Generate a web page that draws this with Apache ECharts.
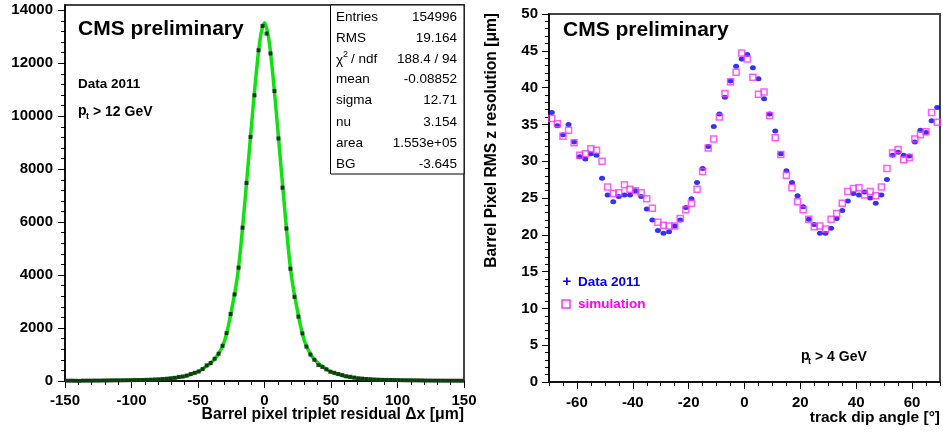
<!DOCTYPE html>
<html><head><meta charset="utf-8">
<script src="https://cdn.jsdelivr.net/npm/echarts@6/dist/echarts.min.js"></script>
<style>html,body{margin:0;padding:0;background:#fff}#c{width:943px;height:433px}</style>
</head><body><div id="c"></div>
<script>
// ---------- Left panel: residual histogram ----------
const residualBins = [
  -148.5,-145.5,-142.5,-139.5,-136.5,-133.5,-130.5,-127.5,-124.5,-121.5,
  -118.5,-115.5,-112.5,-109.5,-106.5,-103.5,-100.5,-97.5,-94.5,-91.5,
  -88.5,-85.5,-82.5,-79.5,-76.5,-73.5,-70.5,-67.5,-64.5,-61.5,
  -58.5,-55.5,-52.5,-49.5,-46.5,-43.5,-40.5,-37.5,-34.5,-31.5,
  -28.5,-25.5,-22.5,-19.5,-16.5,-13.5,-10.5,-7.5,-4.5,-1.5,
  1.5,4.5,7.5,10.5,13.5,16.5,19.5,22.5,25.5,28.5,
  31.5,34.5,37.5,40.5,43.5,46.5,49.5,52.5,55.5,58.5,
  61.5,64.5,67.5,70.5,73.5,76.5,79.5,82.5,85.5,88.5,
  91.5,94.5,97.5,100.5,103.5,106.5,109.5,112.5,115.5,118.5,
  121.5,124.5,127.5,130.5,133.5,136.5,139.5,142.5,145.5,148.5
];
const residualCounts = [
  12,14,10,5,14,16,15,18,17,20,
  19,22,24,23,26,28,30,33,36,40,
  45,48,55,60,72,85,100,120,150,170,
  205,260,310,360,450,590,680,840,1030,1330,
  1810,2530,3270,4280,5790,7480,9220,10790,12490,13410,
  13120,12370,10950,9160,7300,5760,4240,3180,2430,1800,
  1300,1000,800,600,530,440,350,310,265,225,
  180,160,130,100,90,75,65,55,50,45,
  40,38,35,32,30,27,25,24,22,20,
  19,18,17,16,15,14,13,12,12,11
];
const fitX = [-150,-120,-100,-90,-80,-70,-60,-55,-50,-45,-40,-35,-30,-25,-20,-15,-10,-6,-3,0,3,6,10,15,20,25,30,35,40,45,50,55,60,70,80,90,100,120,150];
const fitY = [10,18,32,42,62,100,180,260,350,510,700,990,1520,2620,4080,6620,9530,11720,13000,13530,12980,11700,9500,6600,4060,2600,1510,980,690,500,345,255,180,100,62,42,32,18,10];
const residualTicks = [-150,-100,-50,0,50,100,150];
const countTicks = [0,2000,4000,6000,8000,10000,12000,14000];
const statsLabels = ['Entries','RMS','χ2 / ndf','mean','sigma','nu','area','BG'];
const statsValues = ['154996','19.164','188.4 / 94','-0.08852','12.71','3.154','1.553e+05','-3.645'];

// ---------- Right panel: resolution vs dip angle ----------
const dipAngle = [
  -69,-67,-65,-63,-61,-59,-57,-55,-53,-51,-49,-47,-45,-43,-41,-39,-37,-35,-33,-31,
  -29,-27,-25,-23,-21,-19,-17,-15,-13,-11,-9,-7,-5,-3,-1,
  1,3,5,7,9,11,13,15,17,19,21,23,25,27,29,31,33,35,37,39,
  41,43,45,47,49,51,53,55,57,59,61,63,65,67,69
];
const dataRes = [
  36.6,34.8,33.6,35.0,32.6,30.6,30.3,31.0,30.8,27.7,25.4,24.5,25.2,25.4,25.4,26.0,25.2,23.5,22.0,20.6,
  20.2,20.4,21.2,22.0,23.7,24.9,27.1,29.0,32.0,34.7,36.4,38.7,40.9,42.9,43.9,
  44.5,42.7,41.2,38.5,36.4,34.1,31.0,28.7,27.1,25.3,23.8,22.1,21.4,20.2,20.2,20.9,22.2,23.3,24.6,25.6,
  25.4,25.8,25.0,24.3,25.4,27.5,30.8,31.2,30.8,30.7,32.6,34.2,33.9,35.5,37.3
];
const simRes = [
  35.8,35.1,33.4,34.2,32.5,30.8,31.0,31.7,31.5,30.0,26.5,25.6,25.7,26.8,26.2,26.0,25.7,24.9,23.6,21.7,
  21.3,21.2,21.2,22.2,23.4,24.3,26.2,28.6,31.8,33.0,36.0,39.2,40.8,42.1,44.7,
  43.9,41.4,39.1,39.4,36.2,33.2,30.9,28.1,26.4,24.5,23.4,22.1,21.1,21.2,20.8,22.1,22.9,24.3,25.9,26.3,
  26.4,25.4,25.9,25.3,26.5,29.0,31.1,31.6,30.2,30.5,33.0,33.6,34.0,36.6,35.3
];
const angleTicks = [-60,-40,-20,0,20,40,60];
const resTicks = [0,5,10,15,20,25,30,35,40,45,50];

// ---------- helpers ----------
const F = '"Liberation Sans", Arial, Helvetica, sans-serif';
function steps(a, b, s) { const r = []; for (let v = a; v <= b + 1e-9; v += s) r.push(+v.toFixed(6)); return r; }

function majorAxis(grid, min, max, interval, ticks, margin) {
  return {
    gridIndex: grid, type: 'value', min: min, max: max, interval: interval,
    axisLine: { show: true, onZero: false, lineStyle: { color: '#000', width: 1.5 } },
    axisTick: { show: true, inside: false, length: 7, customValues: ticks, lineStyle: { color: '#000', width: 1 } },
    axisLabel: { show: true, customValues: ticks, margin: margin, fontSize: 15, fontWeight: 'bold', color: '#000', fontFamily: F,
      formatter: function (v) { return String(v); } },
    splitLine: { show: false }
  };
}
function minorAxis(grid, min, max, interval, ticks) {
  return {
    gridIndex: grid, type: 'value', min: min, max: max, interval: interval, offset: 0,
    axisLine: { show: false, onZero: false },
    axisTick: { show: true, inside: false, length: 4, customValues: ticks, lineStyle: { color: '#000', width: 1 } },
    axisLabel: { show: false },
    splitLine: { show: false }
  };
}

const xAxes = [];
const yAxes = [];
const x0 = majorAxis(0, -150, 150, 50, residualTicks, 12); x0.position = 'bottom';
const x0m = minorAxis(0, -150, 150, 10, steps(-150, 150, 10)); x0m.position = 'bottom';
const y0 = majorAxis(0, 0, 14200, 2000, countTicks, 12); y0.position = 'left';
const y0m = minorAxis(0, 0, 14200, 400, steps(0, 14000, 400)); y0m.position = 'left';
const x1 = majorAxis(1, -70, 70, 10, angleTicks, 13); x1.position = 'bottom';
const x1m = minorAxis(1, -70, 70, 5, steps(-70, 70, 5)); x1m.position = 'bottom';
const y1 = majorAxis(1, 0, 50, 5, resTicks, 11); y1.position = 'left';
const y1m = minorAxis(1, 0, 50, 1, steps(0, 50, 1)); y1m.position = 'left';
xAxes.push(x0, x0m, x1, x1m);
yAxes.push(y0, y0m, y1, y1m);

function txt(x, y, s, size, opts) {
  opts = opts || {};
  return {
    type: 'text', x: x, y: y, rotation: opts.rotation || 0, z: 100,
    style: {
      text: s, fill: opts.color || '#000', fontFamily: F, fontSize: size,
      fontWeight: opts.bold === false ? 'normal' : 'bold',
      textAlign: opts.align || 'left', textVerticalAlign: 'middle'
    }
  };
}

const graphics = [];
// stats box
graphics.push({ type: 'rect', z: 90, shape: { x: 330.5, y: 5, width: 133.5, height: 169 },
  style: { fill: '#fff', stroke: '#000', lineWidth: 1 } });
const rowY = [17, 38, 59, 79, 100, 122, 143, 164];
statsLabels.forEach((l, i) => {
  if (l.indexOf('χ') === 0) {
    graphics.push(txt(336, rowY[i] + 1, 'χ', 13.5, { bold: false }));
    graphics.push(txt(343, rowY[i] - 4, '2', 9, { bold: false }));
    graphics.push(txt(351, rowY[i], '/ ndf', 13.5, { bold: false }));
  } else {
    graphics.push(txt(336, rowY[i], l, 13.5, { bold: false }));
  }
  graphics.push(txt(457, rowY[i], statsValues[i], 13.5, { bold: false, align: 'right' }));
});
// left texts
graphics.push(txt(78, 29, 'CMS preliminary', 21));
graphics.push(txt(78, 84, 'Data 2011', 13.5));
graphics.push(txt(78, 111, 'p', 14));
graphics.push(txt(86, 117, 't', 9));
graphics.push(txt(93, 112, '> 12 GeV', 14));
graphics.push(txt(464, 415, 'Barrel pixel triplet residual Δx [μm]', 15.8, { align: 'right' }));
// right texts
graphics.push(txt(563, 30, 'CMS preliminary', 21));
graphics.push(txt(492, 13, 'Barrel Pixel RMS z resolution [μm]', 15.6, { align: 'right', rotation: Math.PI / 2 }));
graphics.push(txt(940, 418, 'track dip angle [°]', 15.5, { align: 'right' }));
graphics.push(txt(801, 356, 'p', 14));
graphics.push(txt(808, 362, 't', 9));
graphics.push(txt(815, 357, '> 4 GeV', 14));
// legend
graphics.push(txt(567, 282, '+', 15, { color: '#0000ee', align: 'center' }));
graphics.push(txt(578, 282, 'Data 2011', 13.5, { color: '#0000ee' }));
graphics.push({ type: 'rect', z: 100, shape: { x: 562, y: 300, width: 8, height: 8 },
  style: { fill: 'none', stroke: '#ff33ff', lineWidth: 1.5 } });
graphics.push(txt(578, 304, 'simulation', 13.5, { color: '#ff00ff' }));

const chart = echarts.init(document.getElementById('c'), null, { renderer: 'canvas' });
chart.setOption({
  backgroundColor: '#fff',
  animation: false,
  grid: [
    { left: 65, top: 5, width: 399, height: 376, show: true, borderColor: '#444', borderWidth: 2, backgroundColor: 'transparent' },
    { left: 549, top: 14, width: 391, height: 368, show: true, borderColor: '#444', borderWidth: 2, backgroundColor: 'transparent' }
  ],
  xAxis: xAxes,
  yAxis: yAxes,
  series: [
    { type: 'line', xAxisIndex: 0, yAxisIndex: 0, data: fitX.map((x, i) => [x, fitY[i]]),
      smooth: 0.35, symbol: 'none', lineStyle: { color: '#11e011', width: 3.5 }, z: 2 },
    { type: 'scatter', xAxisIndex: 0, yAxisIndex: 0, data: residualBins.map((x, i) => [x, residualCounts[i]]),
      symbol: 'rect', symbolSize: 4, itemStyle: { color: '#111' }, z: 3 },
    { type: 'scatter', xAxisIndex: 2, yAxisIndex: 2, data: dipAngle.map((x, i) => [x, dataRes[i]]),
      symbol: 'circle', symbolSize: [6, 5], itemStyle: { color: '#0000ee' }, z: 3 },
    { type: 'scatter', xAxisIndex: 2, yAxisIndex: 2, data: dipAngle.map((x, i) => [x, simRes[i]]),
      symbol: 'rect', symbolSize: 6, itemStyle: { color: 'rgba(0,0,0,0)', borderColor: '#ff33ff', borderWidth: 1.5 }, z: 4 }
  ],
  graphic: graphics
});
</script></body></html>
